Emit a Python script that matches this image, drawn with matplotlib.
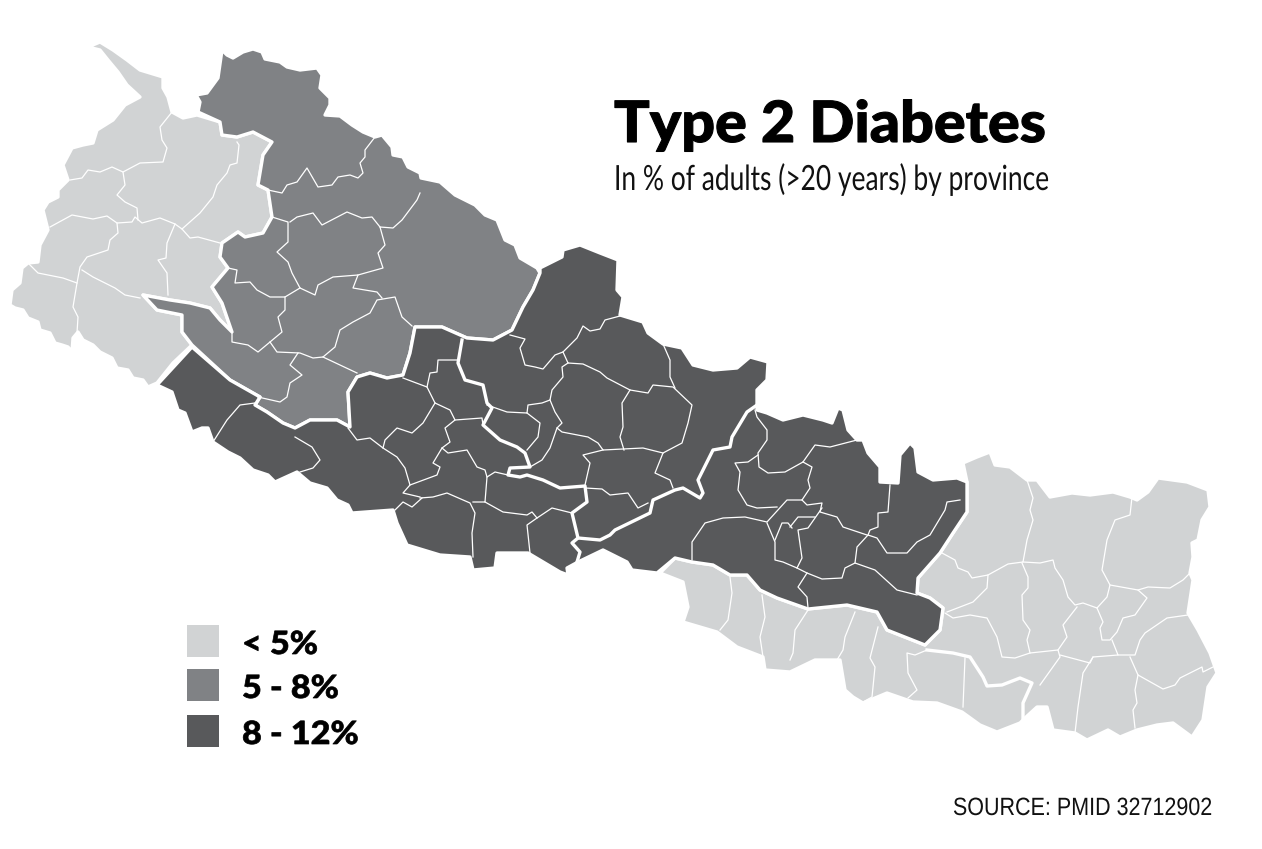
import matplotlib
matplotlib.use('Agg')
import matplotlib.pyplot as plt
import matplotlib.patheffects as pe
from matplotlib.patches import Polygon, Rectangle
from matplotlib.transforms import Affine2D

# colores y leyenda
LIGHT = '#D1D3D4'
MID = '#808285'
DARK = '#58595B'
legend_labels = ['< 5%', '5 - 8%', '8 - 12%']
legend_colors = [LIGHT, MID, DARK]
legend_top = [625, 669, 715]

# contornos en pixeles de la imagen (x, y)
west_light = [(88,47),(100,42),(113,50),(127,60),(140,70),(163,77),(163,88),(168,97),(172,112),(183,118),(197,115),(220,122),(222,135),(237,137),(253,132),(272,142),(263,155),(258,185),(268,190),(272,217),(263,233),(245,237),(238,232),(222,243),(220,257),(228,268),(212,287),(222,303),(232,332),(220,320),(210,308),(190,303),(170,300),(143,295),(157,310),(182,315),(182,332),(192,345),(173,363),(157,383),(148,387),(143,380),(133,378),(128,370),(117,368),(112,358),(100,352),(93,345),(83,340),(78,332),(73,338),(72,352),(68,347),(62,345),(55,343),(50,333),(40,330),(38,322),(28,318),(23,310),(15,308),(10,305),(12,290),(20,283),(22,268),(28,263),(38,262),(40,245),(48,230),(43,210),(48,202),(58,197),(58,190),(68,180),(63,165),(72,148),(83,145),(93,143),(97,130),(113,120),(125,105),(140,97),(127,85),(118,72),(108,60),(100,50)]

mid_region = [(222,50),(227,55),(233,58),(243,52),(253,49),(262,52),(265,59),(280,62),(287,67),(300,70),(317,68),(322,75),(320,88),(330,98),(330,105),(325,115),(340,116),(352,125),(363,132),(375,137),(382,135),(392,147),(393,155),(403,157),(408,167),(420,173),(421,178),(440,182),(455,195),(475,205),(485,215),(497,220),(505,240),(515,245),(520,258),(537,268),(540,273),(533,290),(523,307),(512,330),(493,340),(467,338),(442,327),(415,327),(410,353),(403,375),(387,378),(370,373),(357,377),(348,392),(350,427),(337,420),(310,420),(295,428),(283,423),(267,412),(255,405),(260,397),(230,380),(192,345),(182,332),(182,315),(157,310),(143,295),(170,300),(190,303),(210,308),(220,320),(232,332),(222,303),(212,287),(228,268),(220,257),(222,243),(238,232),(245,237),(263,233),(272,217),(268,190),(258,185),(263,155),(272,142),(253,132),(237,137),(222,135),(220,122),(198,112),(200,102),(196,95),(207,93),(218,78)]

dark_region = [(192,347),(157,385),(172,392),(178,410),(185,413),(192,432),(202,428),(208,428),(213,442),(228,452),(240,458),(253,470),(268,475),(275,482),(297,472),(310,483),(327,488),(337,500),(348,505),(352,513),(393,510),(397,523),(407,545),(440,555),(470,557),(473,570),(495,568),(497,553),(528,553),(560,572),(568,575),(567,568),(578,562),(603,550),(627,562),(632,570),(657,573),(675,558),(692,562),(713,565),(730,575),(747,575),(760,590),(777,598),(808,609),(847,605),(877,612),(887,630),(925,645),(940,630),(943,608),(930,598),(917,593),(918,578),(940,553),(953,533),(967,512),(967,482),(957,478),(933,480),(918,472),(915,448),(910,443),(900,455),(898,483),(880,482),(880,467),(868,453),(863,440),(857,440),(848,430),(843,410),(838,408),(832,423),(823,420),(803,415),(783,420),(767,413),(757,410),(757,390),(767,380),(768,362),(750,357),(737,368),(713,370),(693,365),(682,348),(663,344),(648,333),(643,322),(620,315),(623,297),(617,290),(618,260),(600,253),(580,245),(563,250),(562,257),(540,268),(540,273),(533,290),(523,307),(512,330),(493,340),(467,338),(442,327),(415,327),(410,353),(403,375),(387,378),(370,373),(357,377),(348,392),(350,427),(337,420),(310,420),(295,428),(283,423),(267,412),(255,405),(260,397),(230,380)]

east_light = [(963,463),(977,457),(990,452),(995,465),(1010,467),(1027,480),(1037,480),(1050,497),(1072,493),(1090,495),(1113,492),(1130,497),(1137,500),(1148,492),(1158,478),(1187,482),(1208,490),(1210,507),(1202,520),(1198,540),(1192,543),(1193,557),(1190,573),(1193,580),(1188,613),(1198,630),(1210,653),(1217,673),(1208,687),(1203,720),(1192,737),(1173,723),(1157,725),(1137,730),(1120,737),(1108,730),(1087,740),(1075,733),(1053,730),(1047,707),(1037,707),(1025,718),(1020,723),(997,732),(980,725),(962,712),(937,703),(913,702),(887,693),(863,703),(853,697),(845,690),(840,660),(815,660),(790,672),(765,670),(763,657),(737,647),(717,632),(683,622),(688,607),(683,582),(660,573),(675,558),(692,562),(713,565),(730,575),(747,575),(760,590),(777,598),(808,609),(847,605),(877,612),(887,630),(925,645),(940,630),(943,608),(930,598),(917,593),(918,578),(940,553),(953,533),(967,512),(967,482)]

# fronteras gruesas entre provincias
province_lines = [
    [(462,340),(458,363),(465,380),(483,385),(487,403),(492,408),(483,425),(500,440),(517,447),(525,453),(530,467),(510,468),(508,475),(520,477),(527,475),(543,480),(560,488),(585,486),(587,502),(572,513),(578,538),(600,540),(610,535),(615,530),(650,513),(653,500),(675,490),(683,488),(700,498),(703,493),(698,480),(713,450),(730,447),(732,437),(747,412),(757,405)],
    [(578,538),(572,543),(580,552),(577,562)],
    [(927,650),(953,653),(970,657),(983,677),(987,686),(1002,685),(1020,678),(1032,683),(1023,703),(1023,718)],
]

# limites de distritos
district_lines = [
    # oeste
    [(172,112),(160,127),(162,140),(167,148),(163,162),(140,163),(123,172),(112,167),(100,172),(88,170),(82,178),(70,180)],
    [(123,172),(125,185),(117,195),(125,202),(137,208),(138,220)],
    [(50,227),(72,215),(93,219),(107,216),(117,223),(132,222),(135,217),(142,223),(160,218),(175,224),(182,229),(200,213),(213,197),(217,185),(227,173),(230,165),(237,163),(239,145),(237,142)],
    [(182,229),(190,238),(198,237),(220,243)],
    [(175,224),(167,243),(166,258),(158,260),(167,273),(168,295)],
    [(117,223),(118,233),(110,240),(108,250),(87,257),(80,267),(77,283),(73,307),(78,317),(77,333)],
    [(28,263),(38,273),(63,278),(77,283)],
    [(82,270),(93,277),(115,288),(125,295),(140,298)],
    # karnali
    [(375,137),(365,150),(365,157),(360,163),(363,173),(358,178),(350,175),(338,177),(332,185),(318,187),(307,168),(297,182),(287,185),(282,193),(268,190)],
    [(272,217),(288,222),(288,242),(277,252),(288,262),(292,273),(300,288),(315,295),(318,285),(333,277),(358,275),(383,268),(378,253),(385,245),(380,227),(393,228),(402,220),(417,200),(420,193)],
    [(290,222),(297,217),(313,213),(322,225),(347,212),(362,218),(372,217),(380,227)],
    [(228,268),(237,270),(235,283),(250,282),(257,290),(270,297),(285,297),(300,288)],
    [(285,297),(285,310),(278,317),(282,332),(270,342),(258,352),(248,345),(232,342),(232,332)],
    [(270,342),(277,352),(300,353),(313,358),(323,357),(335,347),(340,330),(353,322),(370,313),(377,300),(395,297),(402,317),(412,326)],
    [(323,357),(357,373)],
    [(358,275),(353,288),(377,292),(382,298)],
    [(298,353),(290,365),(302,375),(290,383),(287,397),(280,402),(258,397)],
    # lumbini
    [(255,403),(240,405),(227,420),(213,442)],
    [(295,437),(312,447),(320,460),(313,468),(300,472)],
    [(348,428),(357,440),(370,438),(383,448),(397,457),(405,468),(410,485),(403,493),(420,497)],
    [(410,485),(437,475),(440,467),(433,463),(442,448),(450,442),(445,428),(455,420),(450,410),(435,403),(427,387),(430,373),(437,372),(438,360),(458,360)],
    [(403,378),(427,387)],
    [(435,403),(423,423),(412,433),(397,428),(385,440),(383,448)],
    [(455,420),(482,418),(483,425)],
    [(442,448),(448,453),(467,450),(477,467),(485,470),(487,477),(485,502),(473,502)],
    [(487,477),(495,472),(508,475)],
    [(485,502),(503,512),(527,515),(532,512),(537,518),(552,508),(572,513)],
    [(537,518),(527,525),(530,553)],
    [(420,498),(433,497),(447,493),(470,503),(475,513),(472,533),(473,557)],
    [(395,510),(403,502),(412,507),(422,498)],
    # gandaki
    [(510,335),(525,339),(520,348),(525,365),(535,367),(543,369),(555,355),(563,352),(577,338),(583,326),(590,331),(600,329),(605,320),(620,316)],
    [(563,352),(568,363),(583,364),(600,372),(607,378),(630,390),(648,393),(653,385),(673,387),(692,405),(688,423),(682,443),(663,453),(655,473),(670,480),(673,488)],
    [(663,344),(670,360),(670,377),(675,388)],
    [(630,390),(622,403),(623,427),(620,437),(624,450)],
    [(568,363),(562,367),(563,377),(552,390),(550,400),(542,403),(528,405),(527,413),(507,412),(487,405)],
    [(527,413),(540,423),(538,437),(527,450)],
    [(550,400),(555,412),(562,423),(557,428),(550,448),(542,460),(530,467)],
    [(557,428),(562,432),(588,437),(598,443),(603,450),(643,448),(663,453)],
    [(603,450),(583,455),(590,463),(585,485)],
    [(585,488),(602,489),(610,495),(628,493),(638,508),(648,503)],
    # bagmati
    [(755,410),(757,417),(767,430),(767,440),(758,453),(759,467),(768,473),(785,472),(803,462),(815,445),(830,447),(857,440)],
    [(803,462),(812,467),(808,480),(810,488),(802,500),(787,500),(767,522),(745,517),(723,518),(705,523),(692,542),(692,560)],
    [(758,455),(748,462),(735,463),(740,472),(738,490),(747,505),(757,508),(777,507)],
    [(802,500),(807,505),(822,503),(820,512),(837,517),(843,527),(867,535)],
    [(822,508),(808,528),(798,530),(802,558),(797,568),(783,562),(775,560),(775,542),(767,523)],
    [(790,527),(798,517),(815,517)],
    [(775,540),(782,523),(788,523),(792,528)],
    [(797,568),(807,573),(822,579),(842,578),(845,568),(855,563),(875,570),(897,590),(917,595)],
    [(855,563),(857,547),(868,535),(877,538),(887,553),(907,553),(917,542),(930,535),(945,510),(947,502),(960,500)],
    [(868,535),(870,530),(878,527),(878,513),(888,512),(890,485)],
    [(807,573),(798,587),(807,597),(808,608)],
    # este
    [(1027,480),(1033,498),(1030,510),(1033,520),(1027,540),(1023,562),(1008,564),(988,575),(972,578),(968,572),(958,568),(955,560),(942,553)],
    [(988,575),(987,588),(973,602),(947,612)],
    [(945,613),(953,618),(970,615),(987,618),(997,637),(1002,657),(1015,658),(1030,653),(1058,650),(1060,657),(1040,685)],
    [(1022,563),(1028,577),(1028,588),(1022,595),(1023,620),(1030,630),(1027,640),(1030,653)],
    [(1023,562),(1040,563),(1053,560),(1055,568),(1063,580),(1068,597),(1075,605),(1083,603),(1097,608),(1107,597),(1110,585),(1102,570),(1107,540),(1115,520),(1130,515),(1132,497)],
    [(1110,585),(1138,590),(1148,587),(1170,588),(1183,580),(1190,573)],
    [(1138,590),(1147,598),(1135,615),(1123,618),(1117,632),(1110,640),(1102,640),(1100,628),(1103,622),(1097,608)],
    [(1077,607),(1063,625),(1067,637),(1058,650)],
    [(1112,640),(1118,655),(1093,657),(1090,663),(1060,655)],
    [(1118,655),(1135,655),(1140,640),(1145,633),(1167,618),(1188,615)],
    [(1130,657),(1138,675),(1163,689),(1175,685),(1180,678),(1202,667),(1203,672),(1213,667)],
    [(1138,675),(1135,690),(1137,703),(1133,710),(1135,728)],
    [(1093,657),(1083,673),(1078,707),(1075,733)],
    # sur
    [(965,658),(963,707)],
    [(927,650),(915,655),(907,653),(908,673),(917,690),(908,698)],
    [(878,627),(870,658),(875,667),(872,697),(863,702)],
    [(855,612),(845,637),(843,650),(837,660)],
    [(730,577),(732,593),(728,620),(720,630)],
    [(762,595),(765,617),(760,637),(763,657)],
    [(808,610),(795,630),(793,653),(790,660)],
]


class StretchX(pe.AbstractPathEffect):
    """Estira el texto en horizontal y lo engorda un poco si se pide."""
    def __init__(self, x0, factor, stroke=0):
        super().__init__()
        self.stretch = Affine2D().translate(-x0, 0).scale(factor, 1).translate(x0, 0)
        self.stroke = stroke

    def draw_path(self, renderer, gc, tpath, affine, rgbFace=None):
        gc0 = renderer.new_gc()
        gc0.copy_properties(gc)
        gc0.set_linewidth(self.stroke)
        gc0.set_foreground('black' if self.stroke else 'none')
        renderer.draw_path(gc0, tpath, affine + self.stretch, rgbFace)
        gc0.restore()


fig = plt.figure(figsize=(12.62, 8.49), dpi=100)
ax = fig.add_axes([0, 0, 1, 1])
ax.set_xlim(0, 1262)
ax.set_ylim(849, 0)
ax.axis('off')

for pts, color in [(west_light, LIGHT), (east_light, LIGHT), (mid_region, MID), (dark_region, DARK)]:
    ax.add_patch(Polygon(pts, closed=True, facecolor=color, edgecolor='white', linewidth=2.4, joinstyle='round'))

for line in district_lines:
    x, y = zip(*line)
    ax.plot(x, y, color='white', linewidth=0.9, solid_joinstyle='round')
for line in province_lines:
    x, y = zip(*line)
    ax.plot(x, y, color='white', linewidth=2.4, solid_joinstyle='round')

# leyenda
for top, color, label in zip(legend_top, legend_colors, legend_labels):
    ax.add_patch(Rectangle((187, top), 32, 32, facecolor=color, edgecolor='none'))
    ax.text(242, top + 29, label, fontsize=23, fontweight='black', family='Lato', color='black',
            va='baseline', path_effects=[StretchX(242, 1.07, 0.5)])

ax.text(614, 142, 'Type 2 Diabetes', fontsize=41, fontweight='black', family='Lato', color='black',
        va='baseline', path_effects=[StretchX(614, 1.04, 0.8)])
ax.text(614, 190, 'In % of adults (>20 years) by province', fontsize=25, family='Lato',
        color='#111111', va='baseline', path_effects=[StretchX(614, 0.76)])
ax.text(1212, 815, 'SOURCE: PMID 32712902', fontsize=18, family='Liberation Sans', color='#111111',
        va='baseline', ha='right', path_effects=[StretchX(1212, 0.86)])

fig.savefig('out.png', dpi=100)
plt.close(fig)
